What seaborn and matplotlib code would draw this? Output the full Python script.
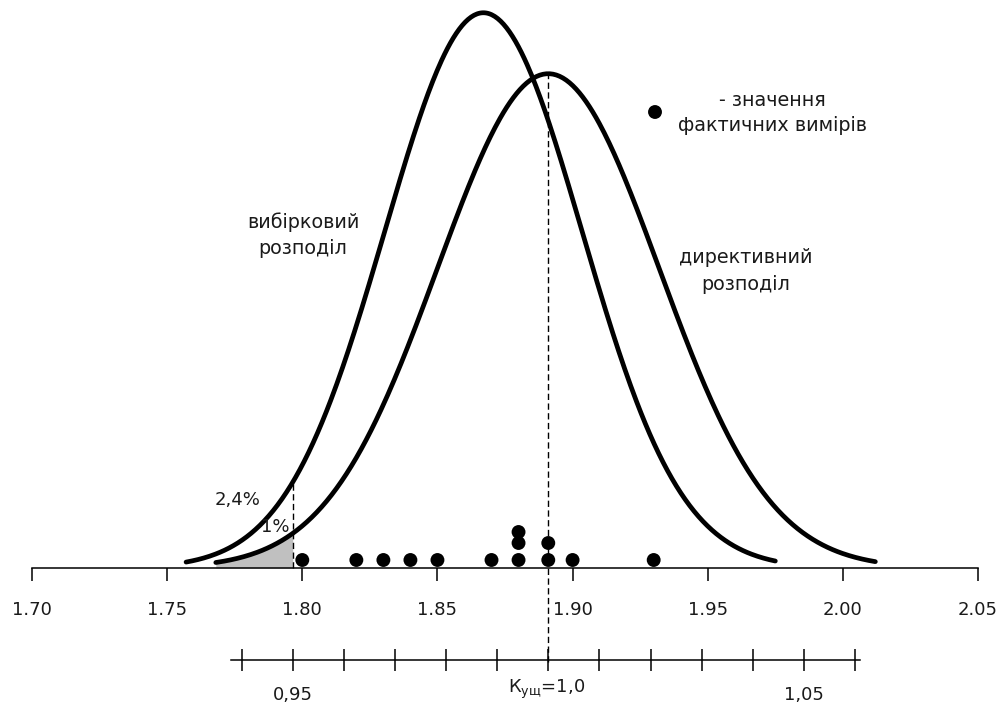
import numpy as np
import pandas as pd
import matplotlib
matplotlib.use("Agg")
import matplotlib.pyplot as plt
import seaborn as sns

# ---------------- data ----------------
sample_mean = 1.867          # вибірковий розподіл
sample_sd = 0.0365
sample_range = (1.757, 1.975)

dir_mean = 1.891             # директивний розподіл (Кущ = 1,0)
dir_sd = 0.041
dir_range = (1.768, 2.012)

measurements = [1.80, 1.82, 1.83, 1.84, 1.85, 1.87, 1.88, 1.88, 1.88,
                1.891, 1.891, 1.90, 1.93]

main_ticks = [1.70, 1.75, 1.80, 1.85, 1.90, 1.95, 2.00, 2.05]
k_ticks = [0.94, 0.95, 0.96, 0.97, 0.98, 0.99, 1.00, 1.01, 1.02, 1.03, 1.04, 1.05, 1.06]
k_labels = {0.95: "0,95", 1.05: "1,05"}
k_limit = 0.95
label_sample = "вибірковий\nрозподіл"
label_dir = "директивний\nрозподіл"
label_legend = "- значення\nфактичних вимірів"
label_k = "К$_{\\mathregular{ущ}}$=1,0"
pct_sample = "2,4%"
pct_dir = "1%"

# ---------------- style / layout ----------------
W, H = 1007, 706
AX_ROW = 568                 # pixel row of main axis
PX_PER_X = 2703.0
X0_PX = 32                   # pixel column of 1.70
DENS_SCALE = 50.8            # pixels per density unit
STACK_PX = [8, 25, 36]
TXT = "#1a1a1a"
FS = 13
FS_LBL = 13.8

sns.set_theme(style="white")
plt.rcParams["font.family"] = ["DejaVu Sans"]

fig = plt.figure(figsize=(W / 100, H / 100), dpi=100)
ax = fig.add_axes([0, 0, 1, 1])
ax.set_xlim(1.70 - X0_PX / PX_PER_X, 1.70 + (W - X0_PX) / PX_PER_X)
ax.set_ylim(-(H - AX_ROW), AX_ROW)

def pdf(x, m, s):
    return np.exp(-0.5 * ((x - m) / s) ** 2) / (s * np.sqrt(2 * np.pi))

def fpos(x, y):
    return (x / W, 1 - y / H)

limit = k_limit * dir_mean

# shaded tail (1%) under directive curve
xs_tail = np.linspace(dir_range[0], limit, 100)
ax.fill_between(xs_tail, 0, pdf(xs_tail, dir_mean, dir_sd) * DENS_SCALE,
                color="#c0c0c0", lw=0, zorder=1)

# curves
xs1 = np.linspace(sample_range[0], sample_range[1], 400)
xs2 = np.linspace(dir_range[0], dir_range[1], 400)
df1 = pd.DataFrame({"x": xs1, "y": pdf(xs1, sample_mean, sample_sd) * DENS_SCALE})
df2 = pd.DataFrame({"x": xs2, "y": pdf(xs2, dir_mean, dir_sd) * DENS_SCALE})
sns.lineplot(data=df1, x="x", y="y", ax=ax, color="black", lw=3.4,
             sort=False, solid_capstyle="round", zorder=3)
sns.lineplot(data=df2, x="x", y="y", ax=ax, color="black", lw=3.4,
             sort=False, solid_capstyle="round", zorder=3)

# dashed lines
ax.vlines(dir_mean, -(662 - AX_ROW), pdf(dir_mean, dir_mean, dir_sd) * DENS_SCALE,
          colors="black", lw=1.0, linestyles=(0, (4.5, 2.5)), zorder=2)
ax.vlines(limit, 0, pdf(limit, sample_mean, sample_sd) * DENS_SCALE,
          colors="black", lw=1.0, linestyles=(0, (4.5, 2.5)), zorder=2)

# measurement dots stacked
counts = {}
lev = []
for v in measurements:
    k = counts.get(v, 0)
    lev.append(k)
    counts[v] = k + 1
dots = pd.DataFrame({"x": measurements, "y": [STACK_PX[k] for k in lev]})
sns.scatterplot(data=dots, x="x", y="y", ax=ax, color="black", s=100,
                marker="o", edgecolor="none", zorder=4)

# main axis
for s in ["left", "right", "top"]:
    ax.spines[s].set_visible(False)
ax.spines["bottom"].set_position(("data", 0))
ax.spines["bottom"].set_bounds(1.70, 2.05)
ax.spines["bottom"].set_color("black")
ax.spines["bottom"].set_linewidth(1.1)
ax.set_xticks(main_ticks, [f"{t:.2f}" for t in main_ticks])
ax.set_yticks([])
ax.tick_params(axis="x", direction="out", length=9, width=1.1, color="black",
               pad=14.5, labelsize=FS, labelcolor=TXT, bottom=True)
ax.set_xlabel("")
ax.set_ylabel("")

# K scale axis
sec = ax.secondary_xaxis((H - 660) / H, functions=(lambda x: x / dir_mean,
                                                   lambda k: k * dir_mean))
sec.spines["top"].set_visible(False)
sec.spines["bottom"].set_bounds(0.938, 1.061)
sec.spines["bottom"].set_linewidth(1.1)
sec.spines["bottom"].set_color("black")
sec.set_xticks(k_ticks, [k_labels.get(round(t, 2), "") for t in k_ticks])
sec.tick_params(axis="x", direction="inout", length=16, width=1.1, color="black",
                pad=10.5, labelsize=FS, labelcolor=TXT)

ax.text(*fpos(547, 693), label_k, transform=ax.transAxes, ha="center",
        va="baseline", fontsize=FS, color=TXT)

# annotations
ax.text(*fpos(303, 235), label_sample, transform=ax.transAxes, ha="center",
        va="center", fontsize=FS_LBL, color=TXT, linespacing=1.5)
ax.text(*fpos(746, 271), label_dir, transform=ax.transAxes, ha="center",
        va="center", fontsize=FS_LBL, color=TXT, linespacing=1.5)
ax.text(*fpos(772, 113), label_legend, transform=ax.transAxes, ha="center",
        va="center", fontsize=FS_LBL, color=TXT, linespacing=1.45)
ax.scatter(*fpos(655, 112), transform=ax.transAxes, s=100, color="black",
           edgecolor="none", zorder=4)
ax.text(*fpos(238, 500), pct_sample, transform=ax.transAxes, ha="center",
        va="center", fontsize=FS, color=TXT)
ax.text(*fpos(275, 527), pct_dir, transform=ax.transAxes, ha="center",
        va="center", fontsize=FS, color=TXT)

fig.savefig("out.png", dpi=100, facecolor="white")
